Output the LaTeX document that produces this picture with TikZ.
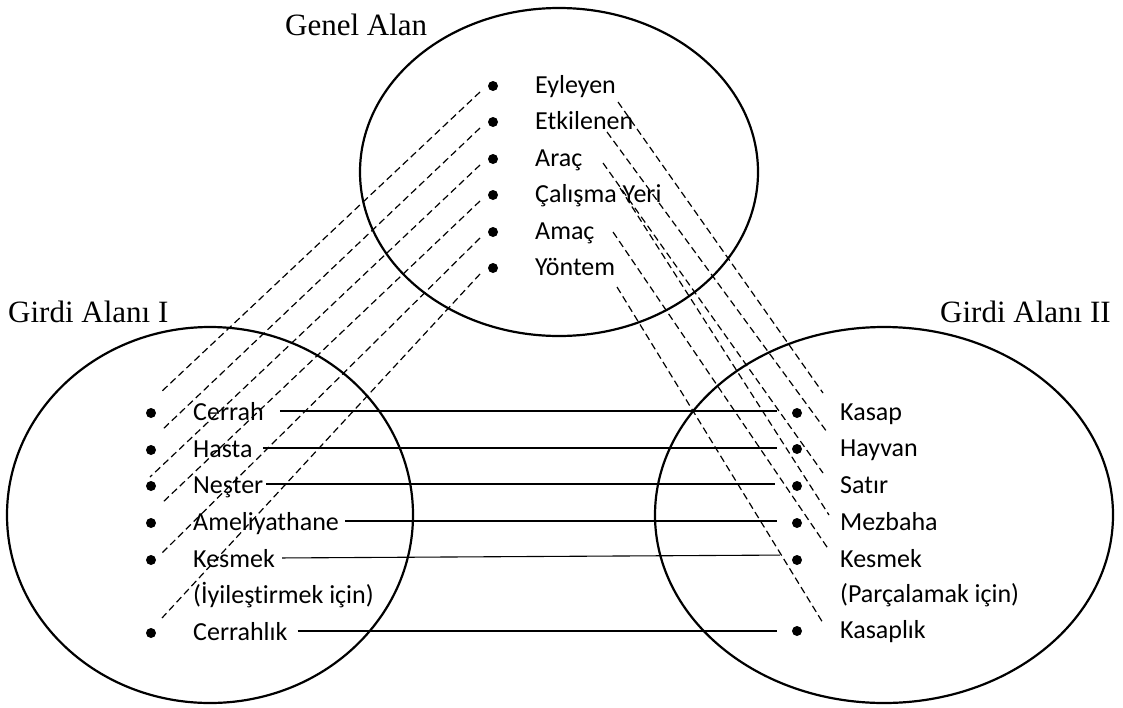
\documentclass[tikz,border=0pt]{standalone}
\usepackage{fontspec}
\setmainfont{Liberation Serif}
\newfontfamily\calibri[Ligatures=NoCommon]{Carlito}
\usetikzlibrary{calc}

\tikzset{
  dot/.style={circle, fill=black, inner sep=0pt, minimum size=10pt},
  item/.style={anchor=base west, inner sep=0pt, text height=22pt, text depth=4pt,
    font=\calibri\fontsize{26}{30}\selectfont},
  head/.style={anchor=base west, inner sep=0pt, font=\fontsize{31}{36}\selectfont},
  link/.style={dash pattern=on 7pt off 4pt, line width=1.2pt},
  bar/.style={line width=1.1pt},
  area/.style={line width=2.2pt}
}

\begin{document}
\begin{tikzpicture}[x=1pt, y=-1pt]
\useasboundingbox (0,0) rectangle (1123,707);

% Draw the three spaces
\draw[area] (559,172) ellipse [x radius=199, y radius=164];
\draw[area] (210,515) ellipse [x radius=203, y radius=188];
\draw[area] (884,515) ellipse [x radius=229, y radius=188];
\node[head] (genel) at (285,35) {Genel Alan};
\node[head] (girdiA) at (8,322) {Girdi Alanı I};
\node[head] (girdiB) at (940,322) {Girdi Alanı II};

% Generic space
\node[dot] (eyldot) at (493,86) {};
\node[dot] (etkdot) at (493,122) {};
\node[dot] (aracdot) at (493,159) {};
\node[dot] (yerdot) at (493,195) {};
\node[dot] (amacdot) at (493,232) {};
\node[dot] (yondot) at (493,268) {};
\node[item] (eyl) at (535,93) {Eyleyen};
\node[item] (etk) at (535,129) {Etkilenen};
\node[item] (arac) at (535,166) {Araç};
\node[item] (yer) at (535,202) {Çalışma Yeri};
\node[item] (amac) at (535,239) {Amaç};
\node[item] (yon) at (535,275) {Yöntem};

% Input space I
\node[dot] (cerdot) at (151,413) {};
\node[dot] (hasdot) at (151,450) {};
\node[dot] (nesdot) at (151,486) {};
\node[dot] (amedot) at (151,523) {};
\node[dot] (kesLdot) at (151,560) {};
\node[dot] (clkdot) at (151,633) {};
\node[item] (cer) at (193,420) {Cerrah};
\node[item] (has) at (193,457) {Hasta};
\node[item] (nes) at (193,493) {Neşter};
\node[item] (ame) at (193,530) {Ameliyathane};
\node[item] (kesL) at (193,567) {Kesmek};
\node[item] (iyi) at (193,603) {(İyileştirmek için)};
\node[item] (clk) at (193,640) {Cerrahlık};

% Input space II
\node[dot] (kasdot) at (797,413) {};
\node[dot] (haydot) at (797,449) {};
\node[dot] (satdot) at (797,486) {};
\node[dot] (mezdot) at (797,523) {};
\node[dot] (kesRdot) at (797,560) {};
\node[dot] (kslkdot) at (797,631) {};
\node[item] (kas) at (840,420) {Kasap};
\node[item] (hay) at (840,456) {Hayvan};
\node[item] (sat) at (840,493) {Satır};
\node[item] (mez) at (840,530) {Mezbaha};
\node[item] (kesR) at (840,567) {Kesmek};
\node[item] (par) at (840,602) {(Parçalamak için)};
\node[item] (kslk) at (840,638) {Kasaplık};

% Cross-space mapping
\draw[bar, shorten <=16pt, shorten >=15pt] (cer.east) -- (cer.east -| kasdot.west);
\draw[bar, shorten <=10pt, shorten >=15pt] (has.east) -- (has.east -| haydot.west);
\draw[bar, shorten <=3pt, shorten >=17pt] (nes.east) -- (nes.east -| satdot.west);
\draw[bar, shorten <=6pt, shorten >=15pt] (ame.east) -- (ame.east -| mezdot.west);
\draw[bar, shorten <=7pt, shorten >=12pt] (kesL.east) -- ([yshift=3pt]kesL.east -| kesRdot.west);
\draw[bar, shorten <=10pt, shorten >=15pt] (clk.east) -- (clk.east -| kslkdot.west);

% Generic space to input space I
\coordinate (eylL) at (160,393);
\coordinate (etkL) at (162,430);
\coordinate (aracL) at (150,477);
\coordinate (yerL) at (162,503);
\coordinate (amacL) at (162,553);
\coordinate (yonL) at (162,618);
\draw[link] ($(eyldot)+(-13,6)$) -- (eylL);
\draw[link] ($(etkdot)+(-13,6)$) -- (etkL);
\draw[link] ($(aracdot)+(-13,6)$) -- (aracL);
\draw[link] ($(yerdot)+(-13,6)$) -- (yerL);
\draw[link] ($(amacdot)+(-13,6)$) -- (amacL);
\draw[link] ($(yondot)+(-13,6)$) -- (yonL);

% Generic space to input space II
\coordinate (eylR) at (618,102);
\coordinate (etkR) at (607,132);
\coordinate (aracR) at (603,163);
\coordinate (yerR) at (620,188);
\coordinate (amacR) at (613,232);
\coordinate (yonR) at (617,287);
\draw[link] (eylR) -- (823,393) coordinate (eylE);
\draw[link] (etkR) -- (827,432) coordinate (etkE);
\draw[link] (aracR) -- (823,473) coordinate (aracE);
\draw[link] (yerR) -- (829,515) coordinate (yerE);
\draw[link] (amacR) -- (829,550) coordinate (amacE);
\draw[link] (yonR) -- (823,623) coordinate (yonE);
\end{tikzpicture}
\end{document}
